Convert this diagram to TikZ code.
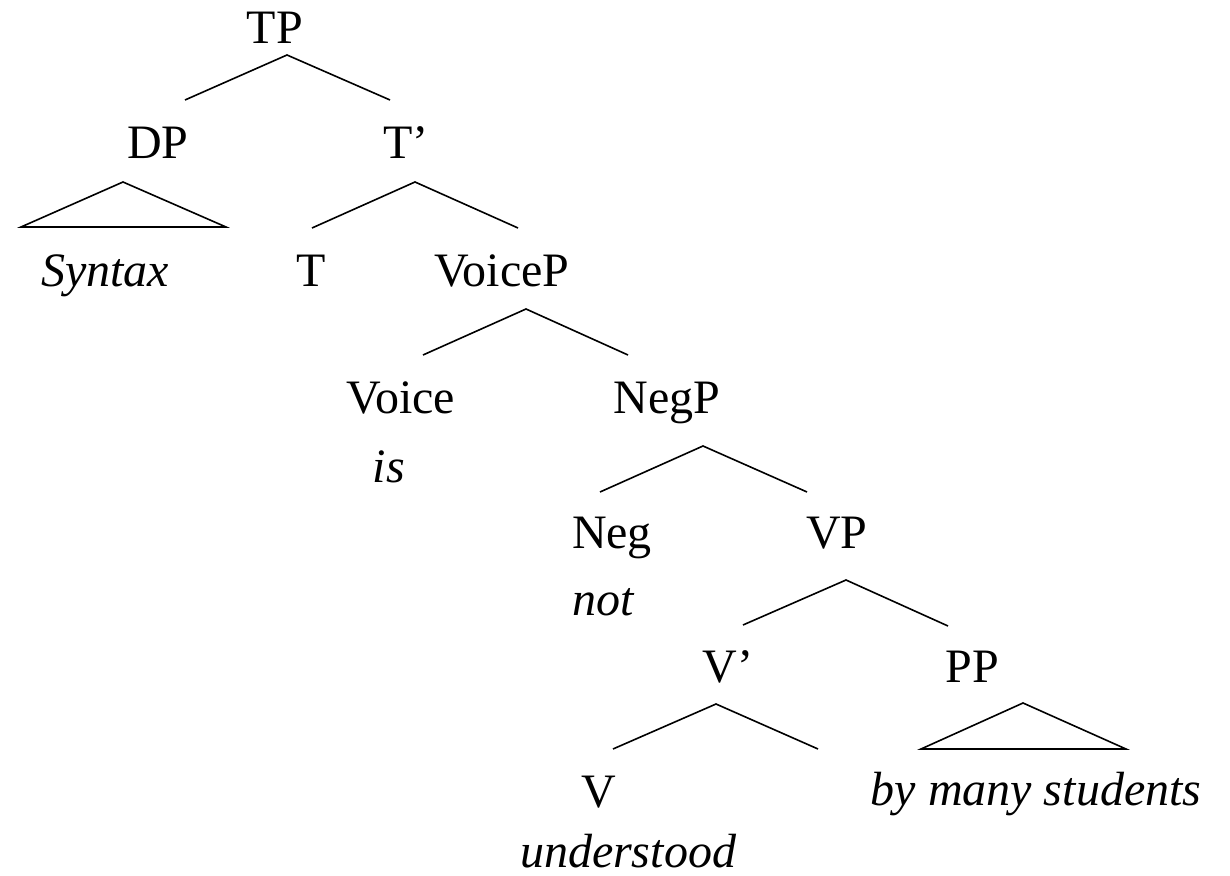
\documentclass[tikz,border=0pt]{standalone}
\usepackage{fontspec}
\setmainfont{Liberation Serif}

\begin{document}
\begin{tikzpicture}[x=0.5pt,y=-0.5pt,
    cat/.style={anchor=base,inner sep=0pt,font=\fontsize{24}{28}\selectfont},
    word/.style={cat,font=\fontsize{24}{28}\selectfont\itshape},
    branch/.style={line width=0.8pt,line join=miter}]
  \useasboundingbox (0,0) rectangle (1230,876);

  \node[cat] (tp) at (275,44) {TP};
  \node[cat] (dp) at (158,159) {DP};
  \node[cat] (tbar) at (406,159) {T’};
  \node[word] (syntax) at (105,287) {Syntax};
  \node[cat] (t) at (311,287) {T};
  \node[cat] (voicep) at (502,287) {VoiceP};
  \node[cat] (voice) at (401,414) {Voice};
  \node[word] (is) at (389,482) {is};
  \node[cat] (negp) at (667,414) {NegP};
  \node[cat] (neg) at (612,548) {Neg};
  \node[word] (not) at (603,615) {not};
  \node[cat] (vp) at (837,548) {VP};
  \node[cat] (vbar) at (728,682) {V’};
  \node[cat] (pp) at (972,682) {PP};
  \node[cat] (v) at (599,807) {V};
  \node[word] (understood) at (628,867) {understood};
  \node[word] (bymany) at (1036,805) {by many students};

  % branch points
  \coordinate (tp-top) at (287,55);
  \coordinate (tp-l) at (185,100);
  \coordinate (tp-r) at (390,100);
  \coordinate (dp-top) at (123,182);
  \coordinate (dp-l) at (21,227);
  \coordinate (dp-r) at (226,227);
  \coordinate (tbar-top) at (415,182);
  \coordinate (tbar-l) at (312,228);
  \coordinate (tbar-r) at (518,228);
  \coordinate (voicep-top) at (526,309);
  \coordinate (voicep-l) at (423,355);
  \coordinate (voicep-r) at (628,355);
  \coordinate (negp-top) at (703,446);
  \coordinate (negp-l) at (600,492);
  \coordinate (negp-r) at (807,492);
  \coordinate (vp-top) at (846,580);
  \coordinate (vp-l) at (743,625);
  \coordinate (vp-r) at (948,626);
  \coordinate (vbar-top) at (716,704);
  \coordinate (vbar-l) at (613,749);
  \coordinate (vbar-r) at (818,749);
  \coordinate (pp-top) at (1023,703);
  \coordinate (pp-l) at (921,749);
  \coordinate (pp-r) at (1126,749);

  \draw[branch] (tp-l) -- (tp-top) -- (tp-r);
  \draw[branch] (dp-top) -- (dp-l) -- (dp-r) -- cycle;
  \draw[branch] (tbar-l) -- (tbar-top) -- (tbar-r);
  \draw[branch] (voicep-l) -- (voicep-top) -- (voicep-r);
  \draw[branch] (negp-l) -- (negp-top) -- (negp-r);
  \draw[branch] (vp-l) -- (vp-top) -- (vp-r);
  \draw[branch] (vbar-l) -- (vbar-top) -- (vbar-r);
  \draw[branch] (pp-top) -- (pp-l) -- (pp-r) -- cycle;
\end{tikzpicture}
\end{document}
